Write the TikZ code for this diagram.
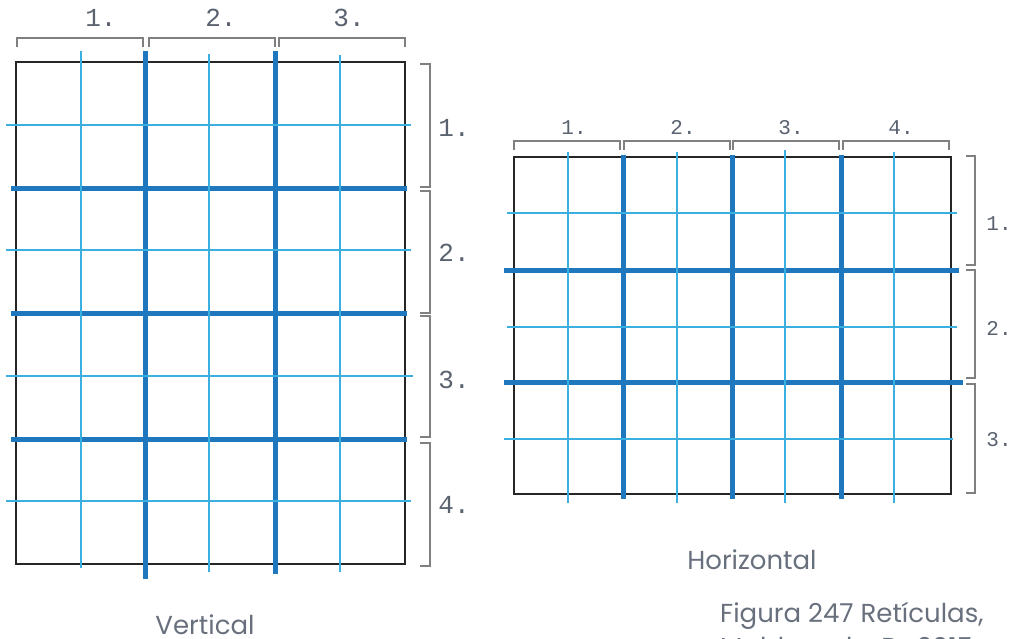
\documentclass[tikz,border=0pt]{standalone}
\usepackage{fontspec}
\setmainfont{Poppins}
\newfontfamily\monof{Liberation Mono}
\definecolor{majorblue}{RGB}{31,119,190}
\definecolor{minorblue}{RGB}{60,175,225}
\definecolor{labgray}{RGB}{90,98,112}
\definecolor{brkgray}{RGB}{128,128,128}
\definecolor{capgray}{RGB}{105,112,125}
\begin{document}
\begin{tikzpicture}[x=1pt,y=-1pt,
  frame/.style={draw=black!85,line width=2.7pt},
  majorline/.style={draw=majorblue,line width=5pt},
  minorline/.style={draw=minorblue,line width=1.5pt},
  bracket/.style={draw=brkgray,line width=1.5pt},
  numbig/.style={text=labgray,font=\monof\fontsize{26}{26}\selectfont,inner sep=0pt},
  numsmall/.style={text=labgray,font=\monof\fontsize{21}{21}\selectfont,inner sep=0pt},
  captext/.style={text=capgray,font=\fontsize{26}{33}\selectfont,inner sep=0pt}]
\useasboundingbox (0,0) rectangle (1015,638);
\clip (0,0) rectangle (1015,638);

% ---------- left grid (Vertical) ----------
\draw[frame] (16,62) rectangle (405,564);
\draw[majorline] (145.5,51) -- (145.5,579);
\draw[majorline] (275,51) -- (275,574);
\draw[majorline] (11,188) -- (407,188);
\draw[majorline] (11,313) -- (407,313);
\draw[majorline] (11,439) -- (407,439);
\draw[minorline] (81,51) -- (81,568);
\draw[minorline] (209,54) -- (209,572);
\draw[minorline] (340,55) -- (340,572);
\draw[minorline] (6,125) -- (411,125);
\draw[minorline] (6,250) -- (411,250);
\draw[minorline] (6,376) -- (413,376);
\draw[minorline] (6,501) -- (411,501);

\draw[bracket] (17,47) -- (17,38) -- (143,38) -- (143,47);
\draw[bracket] (149,47) -- (149,38) -- (275,38) -- (275,47);
\draw[bracket] (279,47) -- (279,38) -- (405,38) -- (405,47);
\draw[bracket] (420,64) -- (430,64) -- (430,187) -- (420,187);
\draw[bracket] (420,191) -- (430,191) -- (430,313) -- (420,313);
\draw[bracket] (420,316) -- (430,316) -- (430,437) -- (420,437);
\draw[bracket] (420,443) -- (430,443) -- (430,566) -- (420,566);

\node[numbig] (vt1) at (101,18) {1.};
\node[numbig] (vt2) at (221,18) {2.};
\node[numbig] (vt3) at (349,18) {3.};
\node[numbig] (vr1) at (454,128) {1.};
\node[numbig] (vr2) at (454,253) {2.};
\node[numbig] (vr3) at (454,380) {3.};
\node[numbig] (vr4) at (454,505) {4.};

% ---------- right grid (Horizontal) ----------
\draw[frame] (514,157) rectangle (951,494);
\draw[majorline] (623,155) -- (623,499);
\draw[majorline] (732,155) -- (732,499);
\draw[majorline] (841,155) -- (841,499);
\draw[majorline] (504,270) -- (959,270);
\draw[majorline] (504,382) -- (963,382);
\draw[minorline] (568,152) -- (568,503);
\draw[minorline] (677,152) -- (677,503);
\draw[minorline] (785,150) -- (785,503);
\draw[minorline] (894,152) -- (894,503);
\draw[minorline] (507,213) -- (957,213);
\draw[minorline] (507,327) -- (957,327);
\draw[minorline] (504,439) -- (953,439);

\draw[bracket] (514,150) -- (514,141) -- (620,141) -- (620,150);
\draw[bracket] (624,150) -- (624,141) -- (730,141) -- (730,150);
\draw[bracket] (733,150) -- (733,141) -- (839,141) -- (839,150);
\draw[bracket] (843,150) -- (843,141) -- (949,141) -- (949,150);
\draw[bracket] (966,156) -- (975,156) -- (975,265) -- (966,265);
\draw[bracket] (966,270) -- (975,270) -- (975,378) -- (966,378);
\draw[bracket] (966,384) -- (975,384) -- (975,493) -- (966,493);

\node[numsmall] (ht1) at (574,127.5) {1.};
\node[numsmall] (ht2) at (683,127.5) {2.};
\node[numsmall] (ht3) at (791,127.5) {3.};
\node[numsmall] (ht4) at (901,127.5) {4.};
\node[numsmall] (hr1) at (999,224) {1.};
\node[numsmall] (hr2) at (999,328) {2.};
\node[numsmall] (hr3) at (999,440) {3.};

% ---------- captions ----------
\node[captext,anchor=base] (capv) at (205,634) {Vertical};
\node[captext,anchor=base] (caph) at (752,569) {Horizontal};
\node[captext,anchor=base west] (fig1) at (720,622) {Figura 247 Retículas,};
\node[captext,anchor=base west] (fig2) at (720,656) {Maldonado, D., 2015.};
\end{tikzpicture}
\end{document}
